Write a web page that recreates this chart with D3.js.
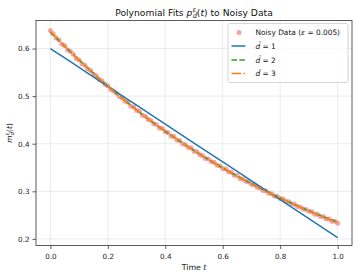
<!DOCTYPE html>
<html>
<head>
<meta charset="utf-8">
<script src="https://cdn.jsdelivr.net/npm/d3@7"></script>
<style>
  body { margin: 0; background: #fff; }
  svg { font-family: "DejaVu Sans", sans-serif; }
</style>
</head>
<body>
<svg id="chart"></svg>
<script>
// noisy samples, evenly spaced on t in [0, 1]
const noisyData = [
  0.638,0.631,0.622,0.618,0.609,0.606,0.597,0.594,0.588,0.579,
  0.576,0.568,0.565,0.557,0.554,0.546,0.543,0.535,0.532,0.525,
  0.522,0.514,0.511,0.506,0.499,0.496,0.489,0.487,0.479,0.477,
  0.470,0.468,0.460,0.458,0.451,0.449,0.442,0.440,0.433,0.432,
  0.425,0.423,0.416,0.415,0.408,0.407,0.400,0.398,0.392,0.391,
  0.384,0.383,0.377,0.375,0.369,0.368,0.362,0.361,0.355,0.354,
  0.348,0.347,0.341,0.340,0.334,0.333,0.327,0.326,0.321,0.320,
  0.315,0.314,0.308,0.307,0.302,0.301,0.296,0.295,0.290,0.289,
  0.285,0.284,0.279,0.278,0.274,0.273,0.268,0.267,0.263,0.262,
  0.258,0.257,0.252,0.252,0.247,0.247,0.242,0.242,0.237,0.237,
  0.233
];

// fitted curves read at t = 0, 0.1, ..., 1
const fitT = [0, 0.1, 0.2, 0.3, 0.4, 0.5, 0.6, 0.7, 0.8, 0.9, 1.0];
const fitD1 = [0.600, 0.5603, 0.5206, 0.4809, 0.4412, 0.4015, 0.3618, 0.3221, 0.2824, 0.2427, 0.203];
const fitD2 = [0.634, 0.576, 0.521, 0.471, 0.426, 0.386, 0.349, 0.316, 0.286, 0.259, 0.235];
const fitD3 = [0.636, 0.5755, 0.5207, 0.4712, 0.4263, 0.3858, 0.349, 0.3158, 0.2858, 0.2586, 0.234];

const xTicks = [0.0, 0.2, 0.4, 0.6, 0.8, 1.0];
const yTicks = [0.2, 0.3, 0.4, 0.5, 0.6];

const w = 357, h = 278;
const margin = {left: 36, right: 5, top: 20.5, bottom: 32.5};

const svg = d3.select("#chart").attr("width", w).attr("height", h);

const x = d3.scaleLinear().domain([-0.05, 1.05]).range([margin.left, w - margin.right]);
const y = d3.scaleLinear().domain([0.1862, 0.6589]).range([h - margin.bottom, margin.top]);

// grid
svg.append("g").selectAll("line").data(xTicks).enter().append("line")
  .attr("x1", d => x(d)).attr("x2", d => x(d))
  .attr("y1", margin.top).attr("y2", h - margin.bottom)
  .attr("stroke", "#b0b0b0").attr("stroke-opacity", 0.3).attr("stroke-width", 0.8);
svg.append("g").selectAll("line").data(yTicks).enter().append("line")
  .attr("y1", d => y(d)).attr("y2", d => y(d))
  .attr("x1", margin.left).attr("x2", w - margin.right)
  .attr("stroke", "#b0b0b0").attr("stroke-opacity", 0.3).attr("stroke-width", 0.8);

// axes
const xAxis = d3.axisBottom(x).tickValues(xTicks).tickFormat(d3.format(".1f")).tickSize(3.5).tickSizeOuter(0);
const yAxis = d3.axisLeft(y).tickValues(yTicks).tickFormat(d3.format(".1f")).tickSize(3.5).tickSizeOuter(0);

const gx = svg.append("g").attr("transform", `translate(0,${h - margin.bottom})`).call(xAxis);
const gy = svg.append("g").attr("transform", `translate(${margin.left},0)`).call(yAxis);
[gx, gy].forEach(g => {
  g.select(".domain").remove();
  g.selectAll("text").attr("font-size", 7.2).attr("fill", "#222").attr("font-family", "DejaVu Sans");
  g.selectAll("line").attr("stroke", "#333").attr("stroke-width", 0.8);
});
gx.selectAll("text").attr("dy", "0.95em");

// data
const pts = noisyData.map((v, i) => ({t: i / (noisyData.length - 1), v}));
svg.append("g").selectAll("circle").data(pts).enter().append("circle")
  .attr("cx", d => x(d.t)).attr("cy", d => y(d.v)).attr("r", 2.5)
  .attr("fill", "#f08080").attr("fill-opacity", 0.7);

const line = vals => d3.line()
  .x((d, i) => x(fitT[i])).y(d => y(d))
  .curve(d3.curveCatmullRom)(vals);

svg.append("path").attr("d", line(fitD1)).attr("fill", "none")
  .attr("stroke", "#1f77b4").attr("stroke-width", 1.5);
svg.append("path").attr("d", line(fitD2)).attr("fill", "none")
  .attr("stroke", "#2ca02c").attr("stroke-width", 1.5).attr("stroke-dasharray", "5.5,2.4");
svg.append("path").attr("d", line(fitD3)).attr("fill", "none")
  .attr("stroke", "#ff7f0e").attr("stroke-width", 1.5).attr("stroke-dasharray", "9.6,2.4,1.5,2.4");

// frame
svg.append("rect")
  .attr("x", margin.left).attr("y", margin.top)
  .attr("width", w - margin.left - margin.right).attr("height", h - margin.top - margin.bottom)
  .attr("fill", "none").attr("stroke", "#333").attr("stroke-width", 0.8);

// title
const title = svg.append("text").attr("x", (margin.left + w - margin.right) / 2).attr("y", 15.5)
  .attr("text-anchor", "middle").attr("font-size", 9.2).attr("fill", "#111");
title.append("tspan").text("Polynomial Fits ");
title.append("tspan").attr("font-style", "italic").text("p");
title.append("tspan").attr("font-style", "italic").attr("font-size", 6.5).attr("dy", -3.8).text("ε");
title.append("tspan").attr("font-style", "italic").attr("font-size", 6.5).attr("dx", -3.3).attr("dy", 6.3).text("d̃");
title.append("tspan").attr("dy", -2.5).text("(");
title.append("tspan").attr("font-style", "italic").text("t");
title.append("tspan").text(") to Noisy Data");

// x label
const xl = svg.append("text").attr("x", (margin.left + w - margin.right) / 2).attr("y", 270)
  .attr("text-anchor", "middle").attr("font-size", 7.8).attr("fill", "#111");
xl.append("tspan").text("Time ");
xl.append("tspan").attr("font-style", "italic").text("t");

// y label
const yl = svg.append("text").attr("transform", `translate(12,${(margin.top + h - margin.bottom) / 2}) rotate(-90)`)
  .attr("text-anchor", "middle").attr("font-size", 7.5).attr("fill", "#111");
yl.append("tspan").attr("font-style", "italic").text("m");
yl.append("tspan").attr("font-style", "italic").attr("font-size", 5.3).attr("dy", -3).text("ε");
yl.append("tspan").attr("font-style", "italic").attr("font-size", 5.3).attr("dx", -2.7).attr("dy", 5).text("d̃");
yl.append("tspan").attr("dy", -2).text("(");
yl.append("tspan").attr("font-style", "italic").text("t");
yl.append("tspan").text(")");

// legend
const legend = svg.append("g");
legend.append("rect").attr("x", 228).attr("y", 23.5).attr("width", 120).attr("height", 59)
  .attr("rx", 2).attr("fill", "#fff").attr("fill-opacity", 0.8)
  .attr("stroke", "#ccc").attr("stroke-width", 0.8);

const legendItems = [
  {kind: "dot", color: "#f08080"},
  {kind: "line", color: "#1f77b4", dash: null, d: "1"},
  {kind: "line", color: "#2ca02c", dash: "5.5,2.4", d: "2"},
  {kind: "line", color: "#ff7f0e", dash: "9.6,2.4,1.5,2.4", d: "3"}
];
const rowY = [32.5, 46, 60, 73.5];
legendItems.forEach((it, i) => {
  const yy = rowY[i];
  if (it.kind === "dot") {
    legend.append("circle").attr("cx", 239).attr("cy", yy).attr("r", 2.5)
      .attr("fill", it.color).attr("fill-opacity", 0.7);
    const t = legend.append("text").attr("x", 255.5).attr("y", yy + 2.6).attr("font-size", 7.4).attr("fill", "#111");
    t.append("tspan").text("Noisy Data (");
    t.append("tspan").attr("font-style", "italic").text("ε");
    t.append("tspan").text(" = 0.005)");
  } else {
    legend.append("line").attr("x1", 231.5).attr("x2", 245.5).attr("y1", yy).attr("y2", yy)
      .attr("stroke", it.color).attr("stroke-width", 1.5)
      .attr("stroke-dasharray", it.dash);
    const t = legend.append("text").attr("x", 255.5).attr("y", yy + 2.6).attr("font-size", 7.4).attr("fill", "#111");
    t.append("tspan").attr("font-style", "italic").text("d̃");
    t.append("tspan").text(" = " + it.d);
  }
});
</script>
</body>
</html>
